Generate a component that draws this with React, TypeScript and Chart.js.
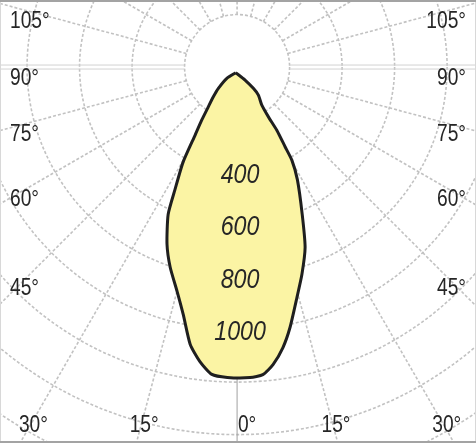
import { useEffect, useRef } from 'react';
import { Chart, registerables } from 'chart.js';

Chart.register(...registerables);

// Luminous intensity outline, traced from the tip down the left side, round the
// bottom and back up the right side: angle from nadir (deg, negative = left) and candela
const curveAngles = [
  -13, -42.3, -41.3, -38.6, -35.9, -33.7, -31.7, -29.6, -26.9, -25.1, -21.6, -18.5, -15, -12.3,
  -9.6, -7.2, -4.7, -1.8, 2.4, 4.8, 6.9, 9.3, 11.5, 14.6, 17.4, 20.7, 23.9, 28.2, 30.5, 31.1,
  32.2, 32.2, 33, 37.3, 37.4, 31.6, -13
];
const curveIntensity = [
  22, 58, 108, 145, 187, 243, 304, 417, 523, 619, 725, 803, 883, 963,
  1070, 1129, 1173, 1181, 1182, 1174, 1140, 1081, 1011, 905, 826, 733, 612, 486, 411, 354,
  284, 224, 173, 134, 102, 58, 22
];

// polar grid
const ringValues = [200, 400, 600, 800, 1000, 1200, 1400, 1600, 1800, 2000];
const ringLabels = [400, 600, 800, 1000];
const spokeAngles = [0, 15, 30, 45, 60, 75, 90, 105, 120, 135, 150, 165, 180, 195, 210, 225, 240, 255, 270, 285, 300, 315, 330, 345];
const sideAngleLabels = [105, 90, 75, 60, 45];
const bottomAngleLabels = [30, 15, 0];

const toRad = (deg: number) => (deg * Math.PI) / 180;

function drawText(
  ctx: CanvasRenderingContext2D,
  text: string,
  x: number,
  y: number,
  align: CanvasTextAlign,
  font: string,
  sx: number
) {
  ctx.save();
  ctx.translate(x, y);
  ctx.scale(sx, 1);
  ctx.font = font;
  ctx.textAlign = align;
  ctx.textBaseline = 'middle';
  ctx.fillText(text, 0, 0);
  ctx.restore();
}

const polarGrid = {
  id: 'polarGrid',
  beforeDatasetsDraw(chart: Chart) {
    const { ctx, chartArea } = chart;
    const xs = chart.scales.x;
    const ys = chart.scales.y;
    const cx = xs.getPixelForValue(0);
    const cy = ys.getPixelForValue(0);
    const rad = (v: number) => xs.getPixelForValue(v) - cx;
    const r0 = rad(ringValues[0]);
    const r1 = rad(ringValues[ringValues.length - 1]);

    ctx.save();
    ctx.beginPath();
    ctx.rect(chartArea.left, chartArea.top, chartArea.right - chartArea.left, chartArea.bottom - chartArea.top);
    ctx.clip();

    ctx.strokeStyle = '#c2c2c2';
    ctx.lineWidth = 1.6;
    ctx.setLineDash([3, 2]);
    ringValues.forEach((v) => {
      ctx.beginPath();
      ctx.arc(cx, cy, rad(v), 0, Math.PI * 2);
      ctx.stroke();
    });

    spokeAngles.forEach((a) => {
      if (a === 0 || a === 90 || a === 270) return;
      const t = toRad(a);
      ctx.beginPath();
      ctx.moveTo(cx + r0 * Math.sin(t), cy + r0 * Math.cos(t));
      ctx.lineTo(cx + r1 * Math.sin(t), cy + r1 * Math.cos(t));
      ctx.stroke();
    });

    ctx.setLineDash([]);
    // nadir line
    ctx.strokeStyle = '#a0a0a0';
    ctx.lineWidth = 1;
    ctx.beginPath();
    ctx.moveTo(cx, cy + r0);
    ctx.lineTo(cx, cy + r1);
    ctx.stroke();
    // horizontal 90° lines
    ctx.strokeStyle = '#d2d2d2';
    [-2, 2].forEach((off) => {
      ctx.beginPath();
      ctx.moveTo(cx - r0, cy + off);
      ctx.lineTo(cx - r1, cy + off);
      ctx.moveTo(cx + r0, cy + off);
      ctx.lineTo(cx + r1, cy + off);
      ctx.stroke();
    });
    ctx.restore();
  },
  afterDatasetsDraw(chart: Chart) {
    const { ctx, chartArea } = chart;
    const xs = chart.scales.x;
    const ys = chart.scales.y;
    const cx = xs.getPixelForValue(0);
    const cy = ys.getPixelForValue(0);
    const rad = (v: number) => xs.getPixelForValue(v) - cx;

    ctx.save();
    ctx.fillStyle = '#262626';
    const ringFont = 'italic 28px "Liberation Sans", Arial, sans-serif';
    ringLabels.forEach((v) => {
      drawText(ctx, String(v), cx + 3, cy + rad(v) + 3, 'center', ringFont, 0.83);
    });

    const angleFont = '24px "Liberation Sans", Arial, sans-serif';
    const colDist = cx - chartArea.left - 27;
    sideAngleLabels.forEach((a) => {
      const y = cy + colDist / Math.tan(toRad(a)) + 11;
      drawText(ctx, a + '°', chartArea.left + 10, y, 'left', angleFont, 0.8);
      drawText(ctx, a + '°', chartArea.right - 10, y, 'right', angleFont, 0.8);
    });

    const rowY = chartArea.bottom - 18;
    bottomAngleLabels.forEach((a) => {
      const dx = (rowY - cy) * Math.tan(toRad(a));
      if (a === 0) {
        drawText(ctx, a + '°', cx + 10, rowY, 'center', angleFont, 0.8);
      } else {
        drawText(ctx, a + '°', cx - dx + 3, rowY, 'center', angleFont, 0.8);
        drawText(ctx, a + '°', cx + dx + 3, rowY, 'center', angleFont, 0.8);
      }
    });
    ctx.restore();
  },
  afterDraw(chart: Chart) {
    const { ctx, width, height } = chart;
    ctx.save();
    ctx.fillStyle = '#d8d8d8';
    ctx.fillRect(0, 0, 1, height);
    ctx.fillRect(width - 1, 0, 1, height);
    ctx.fillStyle = '#a3a3a3';
    ctx.fillRect(0, 0, width, 2);
    ctx.fillRect(0, height - 2, width, 2);
    ctx.restore();
  }
};

export default function App() {
  const canvasRef = useRef<HTMLCanvasElement>(null);
  const chartRef = useRef<Chart | null>(null);

  useEffect(() => {
    if (!canvasRef.current) return;
    if (chartRef.current) chartRef.current.destroy();

    const points = curveAngles.map((a, i) => ({
      x: curveIntensity[i] * Math.sin(toRad(a)),
      y: -curveIntensity[i] * Math.cos(toRad(a))
    }));

    chartRef.current = new Chart(canvasRef.current, {
      type: 'scatter',
      data: {
        datasets: [
          {
            data: points,
            showLine: true,
            borderColor: '#1f1f1f',
            borderWidth: 3,
            borderJoinStyle: 'round',
            backgroundColor: '#fbf4a4',
            fill: 'shape',
            pointRadius: 0,
            tension: 0.2
          }
        ]
      },
      options: {
        animation: false,
        responsive: true,
        maintainAspectRatio: false,
        events: [],
        layout: { padding: 0 },
        plugins: { legend: { display: false }, tooltip: { enabled: false } },
        scales: {
          x: { type: 'linear', min: -903, max: 910, display: false },
          y: { type: 'linear', min: -1430, max: 255, display: false }
        }
      },
      plugins: [polarGrid]
    });

    return () => {
      if (chartRef.current) {
        chartRef.current.destroy();
        chartRef.current = null;
      }
    };
  }, []);

  return (
    <div style={{ position: 'fixed', left: 0, top: 0, width: 476, height: 443, background: '#fff' }}>
      <canvas ref={canvasRef} />
    </div>
  );
}
